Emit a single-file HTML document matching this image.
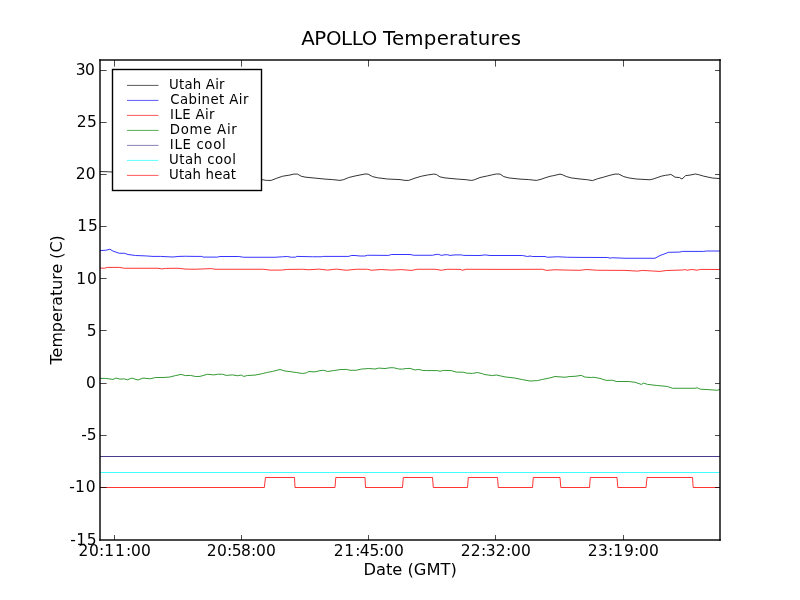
<!DOCTYPE html>
<html><head><meta charset="utf-8"><style>
html,body{margin:0;padding:0;background:#fff;}
body{width:800px;height:600px;overflow:hidden;}
svg{display:block;}
text{font-family:"DejaVu Sans","Liberation Sans",sans-serif;fill:#000;}
</style></head><body>
<svg width="800" height="600" viewBox="0 0 800 600">
<rect x="0" y="0" width="800" height="600" fill="#fff"/>
<g fill="none" stroke-width="0.8" stroke-linejoin="round" stroke-linecap="butt">
<polyline points="100.00,171.50 106.00,171.70 112.00,172.00 118.00,172.50 200.00,178.00 255.00,179.50 261.90,179.60 266.25,180.40 271.25,180.40 276.25,178.40 282.50,176.25 290.00,175.00 293.75,174.10 297.50,174.10 301.25,176.25 305.00,177.10 315.00,178.10 325.00,179.10 332.50,179.60 340.00,180.40 343.75,179.60 348.75,177.50 355.00,176.00 360.00,175.00 365.00,174.00 368.10,174.10 372.50,176.60 377.50,177.75 387.50,179.00 400.00,179.60 405.00,180.40 408.75,180.40 415.00,178.10 421.25,176.25 427.50,175.00 433.75,174.10 436.25,174.40 440.00,176.90 445.00,177.90 450.00,178.40 457.50,179.10 465.00,179.60 471.25,180.40 473.75,180.00 480.00,177.50 487.50,175.90 492.50,174.75 496.25,174.00 500.00,174.00 503.75,176.60 508.75,177.90 520.00,179.10 528.75,179.60 536.25,180.40 540.00,179.60 545.00,177.90 550.00,176.30 553.75,175.60 560.00,174.10 562.50,174.75 566.25,176.50 571.25,177.90 580.00,179.00 587.50,179.75 592.50,180.60 597.50,178.75 603.75,177.10 610.00,175.25 615.00,174.10 618.75,174.10 623.75,176.60 628.75,177.90 636.25,179.00 650.00,179.75 653.80,178.80 661.25,176.20 665.50,175.30 668.70,174.90 670.80,174.35 675.10,177.20 679.30,177.50 682.00,179.00 685.70,175.60 690.00,175.10 695.30,174.00 698.40,174.60 703.80,176.20 712.30,178.00 720.00,178.60" stroke="#000" />
<polyline points="100.00,250.50 105.50,250.30 109.90,249.25 113.00,251.10 119.25,253.25 124.25,253.25 128.00,254.50 135.50,255.50 145.50,255.90 153.00,256.40 160.50,256.40 173.00,257.00 179.00,256.40 185.50,256.25 195.00,256.40 201.90,256.40 203.00,257.10 217.50,257.10 220.00,256.50 238.75,256.50 243.75,257.25 275.00,257.25 282.50,256.75 287.50,256.50 291.25,257.25 295.60,257.10 296.90,256.40 312.50,256.75 321.25,256.75 323.75,256.40 348.75,256.40 351.25,255.50 355.00,255.50 360.00,256.00 365.00,256.00 367.50,255.25 388.75,255.40 391.25,254.50 410.00,254.50 413.75,255.25 432.50,255.25 436.25,254.40 438.75,254.40 441.25,255.40 445.00,254.75 447.50,254.75 450.00,255.40 455.00,254.90 461.25,254.90 463.75,255.40 480.00,255.50 485.00,254.90 490.00,255.50 522.50,255.50 527.50,256.50 530.00,256.00 532.50,256.50 545.00,256.50 547.50,257.25 557.50,256.75 567.50,257.25 580.00,257.40 607.50,257.50 610.00,258.10 612.50,257.75 625.00,258.25 655.00,258.25 660.00,255.50 663.90,254.10 668.50,252.30 679.40,252.10 682.50,251.40 703.40,251.40 706.50,251.00 720.00,251.00" stroke="#0000ff" />
<polyline points="100.00,268.00 104.25,268.25 107.40,267.40 119.25,267.40 124.25,268.25 158.00,268.25 161.75,268.90 165.50,268.40 178.00,268.25 185.50,269.10 195.00,269.25 211.25,268.60 215.00,269.25 263.75,269.25 270.00,270.10 281.25,270.10 287.50,269.40 302.50,269.25 308.75,269.75 318.75,269.10 327.50,270.10 336.25,269.10 346.25,270.25 356.25,269.25 367.50,269.25 371.25,270.25 381.25,269.50 391.25,270.10 401.25,269.60 411.25,270.40 417.50,269.25 435.00,269.25 441.25,270.25 447.50,269.25 460.00,269.40 462.50,270.25 466.25,269.25 505.00,269.40 542.50,269.25 546.25,270.40 555.00,269.75 567.50,270.10 580.00,270.30 586.25,269.50 597.50,270.25 625.00,270.40 637.50,271.10 642.50,270.40 652.50,271.00 660.00,271.40 666.20,270.50 682.50,270.00 684.80,269.60 687.10,270.20 691.80,269.50 697.20,270.20 700.30,269.40 720.00,269.50" stroke="#ff0000" />
<polyline points="100.00,378.40 105.50,378.40 113.00,379.40 116.10,378.10 119.90,379.10 124.25,378.90 127.40,379.75 131.75,378.10 138.00,380.00 143.00,378.10 150.50,378.75 155.50,377.50 163.00,377.50 169.25,377.10 175.50,375.60 181.10,374.40 185.50,375.60 190.50,375.40 195.50,376.50 200.00,376.40 207.50,374.25 213.75,374.90 217.50,374.25 222.50,374.25 226.25,375.40 232.50,374.90 237.50,375.75 241.25,375.10 243.75,376.40 247.50,375.50 255.00,375.10 262.50,373.60 267.50,372.40 272.50,371.40 280.00,369.50 285.00,371.00 290.00,371.60 296.25,372.50 302.50,373.50 306.25,372.90 308.75,371.50 315.00,371.90 320.00,370.60 323.75,370.25 327.50,371.50 333.75,370.60 340.00,369.60 346.25,369.40 350.00,370.25 356.25,370.25 361.25,369.10 368.75,368.50 375.00,369.00 378.75,368.10 385.00,368.50 390.00,367.75 393.75,367.75 398.75,369.00 402.50,369.10 406.25,368.50 410.00,368.40 415.00,370.00 418.75,369.40 422.50,370.40 426.25,370.60 437.50,370.60 440.00,371.25 443.75,370.40 451.25,370.60 456.25,372.10 463.75,372.25 466.25,373.10 472.50,373.40 477.50,372.50 482.50,373.75 485.00,374.60 492.50,375.60 496.25,375.00 505.00,376.90 515.00,378.10 522.50,379.60 530.00,381.00 537.50,380.60 542.50,379.40 550.00,377.90 555.00,376.50 565.00,377.25 570.00,376.50 575.00,376.30 581.25,375.40 585.00,377.10 591.25,377.50 593.75,377.25 600.00,378.40 606.25,380.40 612.50,380.25 616.25,381.50 628.75,381.50 635.00,382.25 641.25,384.40 643.75,383.10 647.50,384.40 656.25,385.40 667.50,386.50 672.40,388.25 694.90,388.25 697.20,387.80 700.30,389.20 708.10,389.60 717.40,390.30 720.00,389.20" stroke="#008000" />
<line x1="100" y1="456.5" x2="720" y2="456.5" stroke="#483d8b" stroke-width="1"/>
<line x1="100" y1="472.5" x2="720" y2="472.5" stroke="#40ffff" stroke-width="1"/>
<polyline points="100.00,487.50 264.30,487.50 265.50,477.50 294.50,477.50 295.00,487.50 335.00,487.50 335.80,477.50 365.00,477.50 365.50,487.50 402.50,487.50 403.30,477.50 432.50,477.50 433.30,487.50 467.50,487.50 468.30,477.50 497.50,477.50 498.30,487.50 532.50,487.50 533.30,477.50 560.00,477.50 560.80,487.50 589.50,487.50 590.30,477.50 617.00,477.50 617.80,487.50 646.00,487.50 647.00,477.50 692.50,477.50 693.20,487.50 720.00,487.50" stroke="#ff0000" stroke-width="0.8" stroke-linejoin="miter"/>
</g>
<g stroke="#000" stroke-opacity="0.7" stroke-width="1">
<line x1="100" y1="487.50" x2="106.6" y2="487.50"/>
<line x1="720" y1="487.50" x2="715" y2="487.50"/>
<line x1="100" y1="435.50" x2="106.6" y2="435.50"/>
<line x1="720" y1="435.50" x2="715" y2="435.50"/>
<line x1="100" y1="383.50" x2="106.6" y2="383.50"/>
<line x1="720" y1="383.50" x2="715" y2="383.50"/>
<line x1="100" y1="330.50" x2="106.6" y2="330.50"/>
<line x1="720" y1="330.50" x2="715" y2="330.50"/>
<line x1="100" y1="278.50" x2="106.6" y2="278.50"/>
<line x1="720" y1="278.50" x2="715" y2="278.50"/>
<line x1="100" y1="226.50" x2="106.6" y2="226.50"/>
<line x1="720" y1="226.50" x2="715" y2="226.50"/>
<line x1="100" y1="174.50" x2="106.6" y2="174.50"/>
<line x1="720" y1="174.50" x2="715" y2="174.50"/>
<line x1="100" y1="122.50" x2="106.6" y2="122.50"/>
<line x1="720" y1="122.50" x2="715" y2="122.50"/>
<line x1="100" y1="70.50" x2="106.6" y2="70.50"/>
<line x1="720" y1="70.50" x2="715" y2="70.50"/>
<line x1="114.50" y1="540" x2="114.50" y2="535"/>
<line x1="114.50" y1="60" x2="114.50" y2="66.6"/>
<line x1="241.50" y1="540" x2="241.50" y2="535"/>
<line x1="241.50" y1="60" x2="241.50" y2="66.6"/>
<line x1="368.50" y1="540" x2="368.50" y2="535"/>
<line x1="368.50" y1="60" x2="368.50" y2="66.6"/>
<line x1="495.50" y1="540" x2="495.50" y2="535"/>
<line x1="495.50" y1="60" x2="495.50" y2="66.6"/>
<line x1="623.50" y1="540" x2="623.50" y2="535"/>
<line x1="623.50" y1="60" x2="623.50" y2="66.6"/>
</g>
<g stroke="#000" stroke-width="1.42" stroke-linecap="square">
<line x1="100" y1="60" x2="100" y2="540"/><line x1="720" y1="60" x2="720" y2="540"/>
<line x1="100" y1="60" x2="720" y2="60" stroke-width="1.5" stroke-opacity="0.95"/><line x1="100" y1="540" x2="720" y2="540" stroke-width="1.5" stroke-opacity="0.95"/>
</g>
<rect x="112.5" y="69.5" width="149" height="121" fill="#fff" stroke="#000" stroke-width="1.4"/>
<line x1="127" y1="85.40" x2="158.5" y2="85.40" stroke="#000" stroke-width="0.65"/>
<text x="169.10" y="88.60" font-size="13.3" letter-spacing="0.20">Utah Air</text>
<line x1="127" y1="100.40" x2="158.5" y2="100.40" stroke="#0000ff" stroke-width="0.65"/>
<text x="170.20" y="103.60" font-size="13.3" letter-spacing="0.44">Cabinet Air</text>
<line x1="127" y1="115.40" x2="158.5" y2="115.40" stroke="#ff0000" stroke-width="0.65"/>
<text x="170.10" y="118.60" font-size="13.3" letter-spacing="0.37">ILE Air</text>
<line x1="127" y1="130.40" x2="158.5" y2="130.40" stroke="#008000" stroke-width="0.65"/>
<text x="169.80" y="133.60" font-size="13.3" letter-spacing="0.71">Dome Air</text>
<line x1="127" y1="145.40" x2="158.5" y2="145.40" stroke="#483d8b" stroke-width="0.65"/>
<text x="169.80" y="148.60" font-size="13.3" letter-spacing="0.66">ILE cool</text>
<line x1="127" y1="160.40" x2="158.5" y2="160.40" stroke="#00ffff" stroke-width="0.65"/>
<text x="169.00" y="163.60" font-size="13.3" letter-spacing="0.49">Utah cool</text>
<line x1="127" y1="175.40" x2="158.5" y2="175.40" stroke="#ff0000" stroke-width="0.65"/>
<text x="169.00" y="178.60" font-size="13.3" letter-spacing="0.16">Utah heat</text>
<text x="70.14 76.20 86.70" y="545.00" font-size="15.5">-15</text>
<text x="69.14 75.10 85.78" y="492.00" font-size="15.5">-10</text>
<text x="81.14 86.70" y="440.00" font-size="15.5">-5</text>
<text x="85.88" y="388.00" font-size="15.5">0</text>
<text x="86.70" y="336.00" font-size="15.5">5</text>
<text x="76.20 86.88" y="284.00" font-size="15.5">10</text>
<text x="77.20 87.90" y="231.00" font-size="15.5">15</text>
<text x="75.66 85.78" y="179.00" font-size="15.5">20</text>
<text x="76.76 86.90" y="127.00" font-size="15.5">25</text>
<text x="75.72 85.08" y="75.00" font-size="15.5">30</text>
<text x="78.61 88.98 98.93 104.30 115.05 125.93 130.98 140.98" y="555.6" font-size="15.5">20:11:00</text>
<text x="206.76 217.08 227.08 231.80 240.95 250.93 255.98 265.98" y="555.6" font-size="15.5">20:58:00</text>
<text x="333.76 344.30 355.18 359.74 369.55 379.08 383.98 393.98" y="555.6" font-size="15.5">21:45:00</text>
<text x="460.76 470.86 481.08 485.82 495.76 506.08 510.98 520.98" y="555.6" font-size="15.5">22:32:00</text>
<text x="587.76 597.92 608.08 613.30 623.92 633.93 638.88 648.98" y="555.6" font-size="15.5">23:19:00</text>
<text x="410.1" y="574.7" text-anchor="middle" font-size="16.3">Date (GMT)</text>
<text transform="translate(61.7,299.8) rotate(-90)" text-anchor="middle" font-size="15.9">Temperature (C)</text>
<text x="301.2" y="44.6" font-size="19.8" letter-spacing="-0.38">APOLLO</text>
<text x="383.0" y="44.6" font-size="19.8" letter-spacing="0.23">Temperatures</text>
</svg>
</body></html>
